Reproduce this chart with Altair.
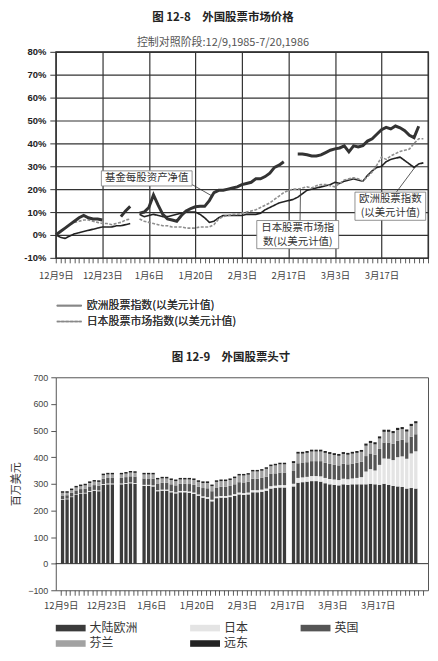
import json
import altair as alt
import pandas as pd

FONT = "Noto Sans CJK SC"
NUMFONT = "Liberation Sans"

# ---------------- shared x axis: trading-day slots from 12/9/1985 ----------------
TICK_LABELS = ["12月9日", "12月23日", "1月6日", "1月20日", "2月3日", "2月17日", "3月3日", "3月17日"]

# ---------------- Fig 12-8: percent change ----------------
NAV_LABEL = "基金每股资产净值"
EUR_LABEL = "欧洲股票指数(以美元计值)"
JPN_LABEL = "日本股票市场指数(以美元计值)"

NAV_STARTS = [0, 14, 18, 52]
NAV_A = [0, 1.5, 3, 4.5, 6, 7.5, 8.5, 7.5, 7, 7, 6.5]
NAV_B = [8, 10.5, 12.5]
NAV_C = [9.5, 10, 12, 17.5, 13, 9, 7, 6.5, 6, 8.5, 10.5, 11.5, 12.3, 12.5, 12.5, 15,
         18.5, 19.5, 19.5, 20, 20.5, 21, 22, 22.5, 23, 24.5, 24.5, 25.5, 27, 29.5, 30.5, 32]
NAV_D = [35.4, 35.4, 35, 34.5, 34.5, 35, 36, 37, 37.6, 38, 38.9, 36.3, 38.9, 38.4, 39,
         41, 42, 44, 46, 47, 46.3, 47.6, 46.8, 45.5, 43.5, 42.5, 47.5]

EUR_STARTS = [0, 18]
EUR_A = [0, -1, -1.5, -0.5, 0.5, 1, 1.5, 2, 2.5, 3, 3.5, 3.5, 3.5, 4, 4, 4.5, 5]
EUR_B = [9, 8, 8.5, 9, 8.5, 8, 8, 8.5, 9, 9.5, 10, 10, 10, 9, 7.5, 5.5, 6, 7.5, 8.5, 8.5,
         8.5, 8.5, 8.5, 9, 9, 9, 9.5, 11, 12, 13, 14, 14.5, 15, 15.5, 16.5, 18, 19.5, 20,
         20.5, 21, 21.5, 22, 23, 22.5, 23.5, 24, 24.5, 24, 23.5, 26, 28, 29.5, 30, 32, 33,
         33.5, 34, 32.5, 31, 29.5, 31, 31.5]

JPN_STARTS = [0, 18]
JPN_A = [0, 1.5, 3, 4.5, 5.5, 6, 6.5, 6.5, 6, 5.5, 5, 5, 4.5, 5, 5.5, 6.5, 7]
JPN_B = [7, 6, 5.5, 5, 4.5, 4, 4, 3.5, 3.5, 3.5, 3, 3, 3, 3.5, 3.5, 3.5, 4.5, 7, 8, 8.5,
         9, 9, 9.5, 10, 10.5, 11, 12, 13, 14, 15.5, 17, 18.5, 19.5, 20, 20, 20.5, 21, 20.5,
         21.5, 22, 22, 21.5, 21, 22.5, 24, 24.5, 25, 24.5, 23.5, 25.5, 27.5, 30.5, 34, 33,
         34.5, 35.5, 36.5, 37, 37.5, 40, 42, 42]

# ---------------- Fig 12-9: positions, $ millions ----------------
POS_SERIES = ["大陆欧洲", "日本", "英国", "芬兰", "远东"]
POS_COLORS = ["#3b3b3b", "#e4e4e4", "#555555", "#a2a2a2", "#232323"]
BAR_SLOTS = list(range(0, 12)) + list(range(13, 17)) + list(range(18, 50)) + list(range(51, 79))
EUROPE_BAR = [240, 242, 250, 258, 262, 264, 270, 274, 272, 296, 298, 298,
              298, 300, 302, 300,
              292, 292, 290, 272, 274, 274, 268, 264, 268, 268, 266, 262, 255, 248, 244, 234,
              246, 248, 248, 250, 254, 260, 258, 260, 268, 268, 270, 274, 282, 284, 286, 286,
              290, 304, 306, 308, 310, 310, 308, 302, 298, 296, 294, 298, 296, 298, 298, 298,
              298, 300, 298, 296, 300, 296, 292, 290, 288, 282, 284, 282]
JAPAN_BAR = [2, 2, 2, 2, 2, 2, 3, 3, 3, 3, 3, 3,
             3, 3, 3, 3,
             4, 4, 4, 4, 4, 4, 4, 4, 5, 5, 5, 5, 5, 5, 6, 6, 6, 6, 6, 6, 7, 7, 7, 7, 8, 8, 8, 8,
             9, 9, 9, 9,
             10, 18, 18, 18, 19, 19, 20, 20, 20, 20, 20, 21, 21, 22, 24, 27, 48, 55, 52, 75,
             95, 98, 97, 110, 115, 112, 130, 140]
UK_BAR = [14, 13, 14, 15, 16, 16, 17, 18, 18, 20, 21, 21,
          21, 22, 23, 24,
          24, 24, 25, 25, 26, 26, 26, 26, 27, 27, 28, 29, 29, 31, 33, 32, 34, 35, 35, 36, 37,
          39, 40, 41, 43, 43, 44, 45, 46, 46, 47, 47,
          48, 55, 54, 55, 56, 56, 57, 57, 57, 56, 55, 56, 56, 56, 57, 58, 58, 59, 59, 60, 60,
          61, 61, 62, 62, 62, 63, 64]
FIN_BAR = [10, 9, 10, 11, 11, 12, 13, 13, 14, 13, 13, 13,
           13, 13, 14, 14,
           15, 15, 16, 15, 16, 16, 16, 16, 16, 16, 17, 18, 18, 19, 20, 19, 21, 21, 21, 22, 23,
           25, 26, 26, 27, 27, 27, 29, 29, 30, 31, 31,
           30, 36, 35, 35, 36, 36, 36, 37, 37, 36, 36, 37, 36, 37, 37, 37, 39, 39, 39, 39, 40,
           40, 40, 40, 40, 40, 40, 41]
FE_BAR = [6, 6, 6, 6, 6, 6, 6, 6, 6, 6, 6, 6,
          6, 6, 6, 6,
          6, 6, 6, 6, 6, 6, 6, 6, 6, 6, 6, 6, 6, 6, 6, 6, 6, 6, 6, 6, 6, 6, 6, 6, 6, 6, 6, 6,
          6, 6, 6, 6,
          7, 7, 7, 7, 7, 7, 7, 7, 7, 7, 7, 7, 7, 7, 7, 7, 8, 8, 8, 8, 8, 8, 8, 8, 8, 8, 8, 8]

# ---------------- tables ----------------
rows = []
for name, starts, segs in [(NAV_LABEL, NAV_STARTS, [NAV_A, NAV_B, NAV_C, NAV_D]),
                           (EUR_LABEL, EUR_STARTS, [EUR_A, EUR_B]),
                           (JPN_LABEL, JPN_STARTS, [JPN_A, JPN_B])]:
    for k, (st, vals) in enumerate(zip(starts, segs)):
        for i, v in enumerate(vals):
            rows.append({"series": name, "seg": f"{name}-{k}", "slot": st + i, "pct": v})
lines = pd.DataFrame(rows)

brow = []
for o, (name, vals) in enumerate(zip(POS_SERIES, [EUROPE_BAR, JAPAN_BAR, UK_BAR, FIN_BAR, FE_BAR])):
    for s, v in zip(BAR_SLOTS, vals):
        brow.append({"slot": s, "series": name, "value": v, "ord": o})
bars = pd.DataFrame(brow)

# annotations (data coordinates)
boxes = pd.DataFrame([
    {"bx1": 9.8, "bx2": 29.3, "by1": 21.4, "by2": 28.0},
    {"bx1": 43.2, "bx2": 60.8, "by1": -6.0, "by2": 6.3},
    {"bx1": 64.3, "bx2": 79.5, "by1": 6.4, "by2": 18.7},
])
texts = pd.DataFrame([
    {"tx": 19.55, "ty": 24.7, "t": NAV_LABEL},
    {"tx": 52.0, "ty": 3.2, "t": "日本股票市场指"},
    {"tx": 52.0, "ty": -2.9, "t": "数(以美元计值)"},
    {"tx": 71.9, "ty": 15.7, "t": "欧洲股票指数"},
    {"tx": 71.9, "ty": 9.4, "t": "(以美元计值)"},
])
leaders = pd.DataFrame([
    {"lx1": 29.3, "ly1": 22.0, "lx2": 33.6, "ly2": 17.0},
    {"lx1": 52.5, "ly1": 6.3, "lx2": 52.6, "ly2": 20.0},
    {"lx1": 73.2, "ly1": 18.7, "lx2": 77.2, "ly2": 29.6},
])

# ---------------- axes / scales ----------------
XS = alt.Scale(domain=[0, 80], nice=False, zero=False)
label_js = json.dumps(TICK_LABELS, ensure_ascii=False)
x_label_expr = f"datum.value % 10 === 0 && datum.value < 80 ? {label_js}[datum.value / 10] : ''"


def x_axis(grid, pad):
    kw = dict(values=list(range(0, 81)), labelExpr=x_label_expr, labelOverlap=False,
              labelFlush=False, tickSize=5, tickColor="#333", tickWidth=0.8,
              labelFont=FONT, labelFontSize=9.5, labelColor="#444", labelPadding=pad,
              domain=False, title=None, grid=grid)
    if grid:
        kw.update(gridColor="#333", gridWidth=1.2,
                  gridOpacity={"condition": {"test": "datum.value % 10 === 0", "value": 1},
                               "value": 0})
    return alt.Axis(**kw)


XT_AXIS = x_axis(True, 7.5)
XB_AXIS = x_axis(False, 5)

YT = alt.Scale(domain=[-10, 80], nice=False, zero=False)
YT_AXIS = alt.Axis(values=list(range(-10, 81, 10)), labelExpr="datum.value + '%'",
                   tickSize=6, tickColor="#333", labelFont=NUMFONT, labelFontSize=9.5,
                   labelFontWeight="bold", labelColor="#222", labelPadding=4, domain=False,
                   title=None, grid=True, gridColor="#333", gridWidth=1.2)

YB = alt.Scale(domain=[-100, 700], nice=False, zero=False)
YB_AXIS = alt.Axis(values=list(range(-100, 701, 100)), tickSize=5, tickColor="#555",
                   labelFont=NUMFONT, labelFontSize=9, labelColor="#444", labelPadding=3,
                   domain=False, grid=False, title="百万美元", titleFont=FONT,
                   titleFontSize=11, titleFontWeight="normal", titleColor="#333",
                   titlePadding=6)


def xt(f):
    return alt.X(f, type="quantitative", scale=XS, axis=XT_AXIS)


def yt(f):
    return alt.Y(f, type="quantitative", scale=YT, axis=YT_AXIS)


# ---------------- top chart ----------------
top_legend = alt.Legend(title=None, orient="none", legendX=0, legendY=249,
                        direction="vertical", symbolType="M-1,0H4", symbolSize=100,
                        symbolStrokeWidth=1.5, labelFont=FONT, labelFontSize=11,
                        labelColor="#333", labelOffset=19, rowPadding=5, padding=0,
                        labelLimit=0)
dom = [EUR_LABEL, JPN_LABEL]
idx_lines = alt.Chart(lines).transform_filter(
    alt.FieldOneOfPredicate(field="series", oneOf=dom)
).mark_line(strokeWidth=1.6).encode(
    x=xt("slot"), y=yt("pct"), detail="seg:N",
    color=alt.Color("series:N", scale=alt.Scale(domain=dom, range=["#222222", "#8e8e8e"]),
                    legend=top_legend),
    strokeDash=alt.StrokeDash("series:N", scale=alt.Scale(domain=dom, range=[[1, 0], [3, 1.5]]),
                              legend=top_legend),
)
nav_line = alt.Chart(lines).transform_filter(
    alt.datum.series == NAV_LABEL
).mark_line(strokeWidth=3, color="#333333").encode(x=xt("slot"), y=yt("pct"), detail="seg:N")

leader_rules = alt.Chart(leaders).mark_rule(color="#333", strokeWidth=0.8).encode(
    x=xt("lx1"), y=yt("ly1"), x2="lx2", y2="ly2")
box_rects = alt.Chart(boxes).mark_rect(fill="white", stroke="#777", strokeWidth=0.8).encode(
    x=xt("bx1"), x2="bx2", y=yt("by1"), y2="by2")
box_texts = alt.Chart(texts).mark_text(font=FONT, fontSize=10.5, color="#333").encode(
    x=xt("tx"), y=yt("ty"), text="t:N")

top = alt.layer(idx_lines, nav_line, leader_rules, box_rects, box_texts).properties(
    width=374, height=207,
    view=alt.ViewBackground(stroke="#222", strokeWidth=1.3),
    title=alt.TitleParams(text="图 12-8\u3000外国股票市场价格",
                          subtitle="控制对照阶段:12/9,1985-7/20,1986",
                          font=FONT, fontSize=11.5, fontWeight="bold", color="#222",
                          subtitleFont=FONT, subtitleFontSize=11, subtitleColor="#555",
                          subtitlePadding=14, offset=-1.5, anchor="middle", dx=-19),
)

# ---------------- bottom chart ----------------
bot_legend = alt.Legend(title=None, orient="none", legendX=0, legendY=246, columns=3,
                        direction="horizontal", columnPadding=52, rowPadding=3.5,
                        symbolType="M-1,-0.55H4V0.55H-1Z", symbolSize=144,
                        symbolStrokeWidth=0, labelFont=FONT, labelFontSize=12,
                        labelColor="#333", labelOffset=22, padding=0, labelLimit=0)
bar_layer = alt.Chart(bars).transform_calculate(xc="datum.slot + 0.4").mark_bar(size=3.3).encode(
    x=alt.X("xc:Q", scale=XS, axis=XB_AXIS),
    y=alt.Y("value:Q", stack="zero", scale=YB, axis=YB_AXIS),
    color=alt.Color("series:N", scale=alt.Scale(domain=POS_SERIES, range=POS_COLORS),
                    legend=bot_legend),
    order=alt.Order("ord:Q", sort="ascending"),
)
zero_rule = alt.Chart(pd.DataFrame({"z": [0]})).mark_rule(color="#333", strokeWidth=1).encode(
    y=alt.Y("z:Q", scale=YB, axis=YB_AXIS))

bottom = alt.layer(bar_layer, zero_rule).properties(
    width=374, height=214,
    view=alt.ViewBackground(stroke="#555", strokeWidth=1),
    title=alt.TitleParams(text="图 12-9\u3000外国股票头寸", font=FONT, fontSize=11.5,
                          fontWeight="bold", color="#222", offset=10, anchor="middle", dx=-11),
)

chart = alt.vconcat(top, bottom, spacing=120).properties(
    bounds="flush",
    padding={"left": 2, "top": 1.5, "right": 0, "bottom": 0},
).resolve_scale(color="independent", x="independent", y="independent").resolve_legend(
    color="independent").configure(background="white")

chart.save("out.html", embed_options={"renderer": "svg", "actions": False})
